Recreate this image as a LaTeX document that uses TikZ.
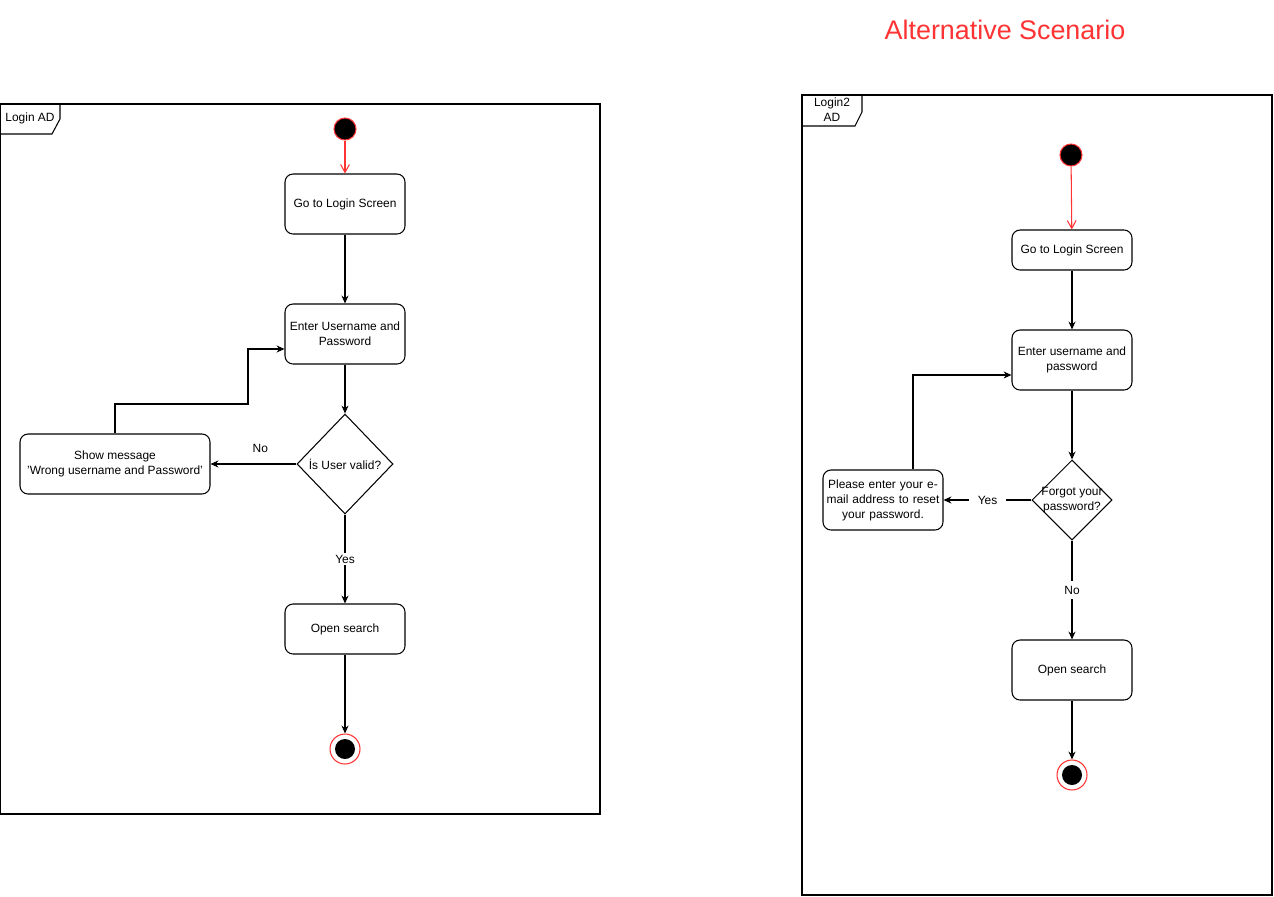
\documentclass[tikz,border=0pt]{standalone}
\usepackage{fontspec}
\setmainfont{Liberation Sans}
\usetikzlibrary{shapes.geometric}
\usetikzlibrary{arrows.meta}
\usetikzlibrary{positioning}
\definecolor{scenred}{HTML}{FF3333}
\tikzstyle{act_text}=[font=\fontsize{6.8}{8.5}\selectfont]
\tikzstyle{act_box}=[draw=black, rectangle, rounded corners=0.16cm, minimum width=2.4cm, minimum height=1.2cm, align=center, inner sep=1pt, act_text]
\tikzstyle{act_decision}=[draw=black, diamond, inner sep=0pt, align=center, act_text]
\tikzstyle{act_start}=[circle, fill=black, draw=scenred, minimum size=0.44cm, inner sep=0pt]
\tikzset{act_end/.style={circle, draw=scenred, fill=white, minimum size=0.6cm, inner sep=0pt,
    path picture={
        \fill[black] (path picture bounding box.center) circle (0.2cm);
      }
    }
}
\tikzstyle{flow}=[draw=black, -{Stealth[length=4.5pt,width=4pt]}]
\tikzstyle{flow_start}=[draw=scenred, -{Straight Barb[length=4.5pt,width=5pt]}]
\tikzstyle{flow_label}=[act_text, fill=white, inner sep=1pt]

\begin{document}
\begin{tikzpicture}[x=0.02cm, y=-0.02cm, line width=0.6pt]
          \useasboundingbox (0,0) rectangle (1274,896);
          \node[text=scenred, font=\fontsize{15.3}{18}\selectfont] (title) at (1005,30) {Alternative Scenario};
          % left frame
          \draw (0.5,104) rectangle (600,814);
          \draw (0.5,134) -- (52,134) -- (60,119) -- (60,104);
          \node[act_text] (frm1) at (30,118) {Login AD};
          \node[act_start] (st1) at (345,129) {};
          \node[act_box] (act1) at (345,204) {Go to Login Screen};
          \node[act_box] (act2) at (345,334) {Enter Username and\\Password};
          \node[act_decision, minimum width=1.92cm, minimum height=2cm] (dec1) at (345,464) {\.Is User valid?};
          \node[act_box, minimum width=3.8cm] (act3) at (115,464) {Show message\\'Wrong username and Password'};
          \node[act_box, minimum height=1cm] (act4) at (345,629) {Open search};
          \node[act_end] (end1) at (345,749) {};
          \draw[flow_start](st1) -- (act1);
          \draw[flow](act1) -- (act2);
          \draw[flow](act2) -- (dec1);
          \draw[flow](dec1.west) -- node[act_text, pos=0.42, above=3pt] {No} (act3.east);
          \draw[flow](dec1) -- node[flow_label] {Yes} (act4);
          \draw[flow](act3.north) |- (248,404) |- ([yshift=-0.3cm]act2.west);
          \draw[flow](act4) -- (end1);
          % right frame
          \draw (802,95) rectangle (1272,895);
          \draw (802,126) -- (855,126) -- (862,112) -- (862,95);
          \node[act_text, align=center] (frm2) at (832,110) {Login2\\AD};
          \node[act_start] (st2) at (1071,155) {};
          \node[act_box, minimum height=0.8cm] (act5) at (1072,250) {Go to Login Screen};
          \node[act_box] (act6) at (1072,360) {Enter username and\\password};
          \node[act_decision, minimum width=1.6cm, minimum height=1.6cm, label={[act_text, align=center]center:Forgot your\\password?}] (dec2) at (1072,500) {};
          \node[act_box, text width=2.3cm] (act7) at (883,500) {Please enter your e-\\mail address to reset\\your password.};
          \node[act_box] (act8) at (1072,670) {Open search};
          \node[act_end] (end2) at (1072,775) {};
          \draw[flow_start](st2) -- (act5);
          \draw[flow](act5) -- (act6);
          \draw[flow](act6) -- (dec2);
          \draw[flow](dec2.west) -- node[flow_label, inner xsep=5pt] {Yes} (act7.east);
          \draw[flow](dec2) -- node[flow_label, inner ysep=3pt] {No} (act8);
          \draw[flow]([xshift=0.6cm]act7.north) |- ([yshift=-0.3cm]act6.west);
          \draw[flow](act8) -- (end2);
        \end{tikzpicture}
\end{document}
